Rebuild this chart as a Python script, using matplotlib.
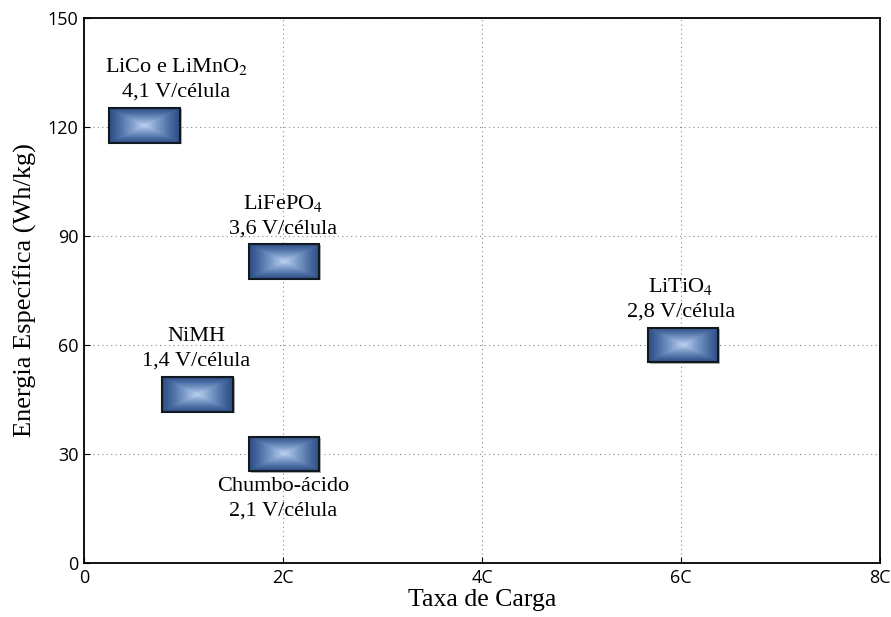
import matplotlib
matplotlib.use("Agg")
import matplotlib.pyplot as plt
import numpy as np
from matplotlib.colors import LinearSegmentedColormap
from matplotlib.patches import Rectangle

# battery chemistries: charge rate (C) vs specific energy (Wh/kg)
names = ["LiCo e LiMnO$_2$", "LiFePO$_4$", "NiMH", "Chumbo-ácido", "LiTiO$_4$"]
volts = ["4,1 V/célula", "3,6 V/célula", "1,4 V/célula", "2,1 V/célula", "2,8 V/célula"]
rate = [0.61, 2.01, 1.14, 2.01, 6.02]
energy = [120.5, 83.0, 46.5, 30.0, 60.0]
label_x = [0.93, 2.0, 1.13, 2.0, 6.0]
label_below = [False, False, False, True, False]

xticks = [0, 2, 4, 6, 8]
xticklabels = ["0", "2C", "4C", "6C", "8C"]
yticks = [0, 30, 60, 90, 120, 150]

plt.rcParams["mathtext.fontset"] = "stix"
serif = "Liberation Serif"

fig = plt.figure(figsize=(8.91, 6.17), dpi=100)
ax = fig.add_axes([0.0943, 0.0875, 0.8934, 0.8833])

cmap = LinearSegmentedColormap.from_list(
    "box", [(0, "#bcd2ee"), (0.35, "#7f9ecc"), (0.72, "#4a6ca2"), (1, "#2c4c82")])
n = 150
u = np.linspace(-1, 1, n)
U, V = np.meshgrid(u, u)
grad = np.maximum(np.abs(U), np.abs(V))

w, h = 0.71, 9.6
for i in range(len(names)):
    x0, y0 = rate[i] - w / 2, energy[i] - h / 2
    # light grey shadow on the right edge
    ax.add_patch(Rectangle((x0 + 0.02, y0 - 0.3), w, h, fc="#b0b0b0", ec="none", zorder=2))
    ax.imshow(grad, cmap=cmap, extent=[x0, x0 + w, y0, y0 + h], aspect="auto",
              interpolation="bilinear", zorder=3, vmin=0, vmax=1)
    ax.add_patch(Rectangle((x0, y0), w, h, fill=False, ec="#111820", lw=1.5, zorder=4))
    if label_below[i]:
        ty = energy[i] - h / 2 - 1.6
        va = "top"
    else:
        ty = energy[i] + h / 2 + 1.6
        va = "bottom"
    ax.text(label_x[i], ty, names[i] + "\n" + volts[i], ha="center", va=va,
            fontsize=16, family=serif, linespacing=1.4, zorder=5)

ax.set_xlim(0, 8)
ax.set_ylim(0, 150)
ax.set_xticks(xticks)
ax.set_xticklabels(xticklabels)
ax.set_yticks(yticks)
ax.tick_params(direction="in", length=4, labelsize=13, pad=4)
for lab in ax.get_xticklabels() + ax.get_yticklabels():
    lab.set_family("Open Sans")
ax.grid(True, linestyle=(0, (1, 3)), color="#888888", lw=0.8)
ax.set_axisbelow(True)
for s in ax.spines.values():
    s.set_linewidth(1.3)

ax.set_xlabel("Taxa de Carga", fontsize=18.5, family=serif, labelpad=2)
ax.set_ylabel("Energia Específica (Wh/kg)", fontsize=19, family=serif, labelpad=8)

fig.savefig("out.png", dpi=100)
